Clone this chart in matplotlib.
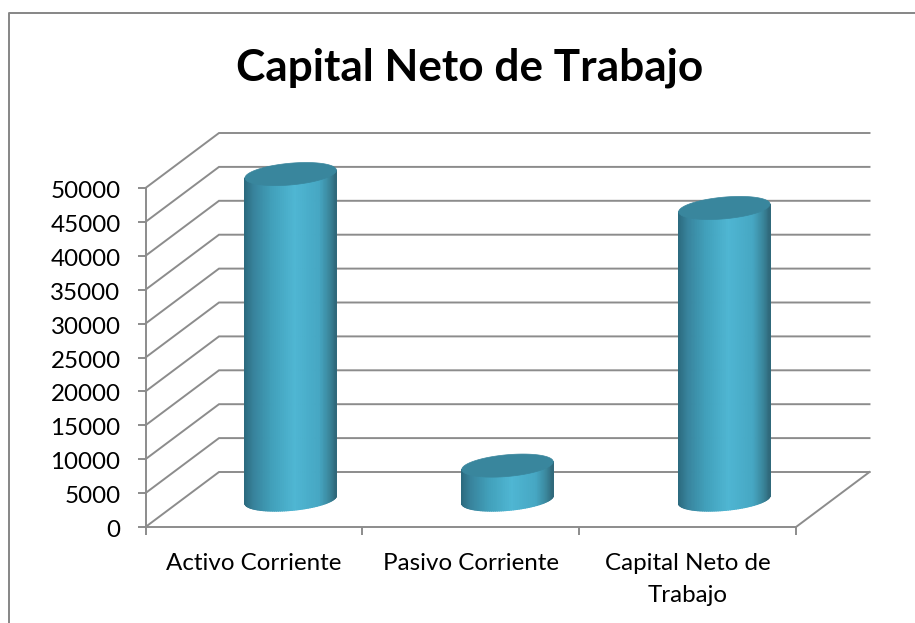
import numpy as np
import matplotlib
matplotlib.use("Agg")
import matplotlib.pyplot as plt
from matplotlib.lines import Line2D
from matplotlib.colors import LinearSegmentedColormap
from matplotlib.collections import PolyCollection
from matplotlib.transforms import ScaledTranslation

title = "Capital Neto de Trabajo"
categories = ["Activo Corriente", "Pasivo Corriente", "Capital Neto de\nTrabajo"]
values = [48000, 5000, 43000]
y_ticks = list(range(0, 50001, 5000))

W, H = 915, 623
GRID = "#8c8c8c"
plt.rcParams["font.family"] = ["Lato", "DejaVu Sans"]
fig = plt.figure(figsize=(W / 100, H / 100), dpi=100, facecolor="white")
L, R, T, B = 145.5, 796, 188, 527
ax = fig.add_axes([L / W, 1 - B / H, (R - L) / W, (B - T) / H])
ax.set_xlim(-0.5, 2.5)
ax.set_ylim(0, 50000)
ax.patch.set_visible(False)

# oblique depth of the 3D box, in data units
dx = 73.5 / (R - L) * 3
dy = 55 / (B - T) * 50000
lw = 1.4

for v in y_ticks:
    ax.plot([-0.5, -0.5 + dx, 2.5 + dx], [v, v + dy, v + dy], color=GRID, lw=lw, clip_on=False,
            solid_joinstyle="miter", zorder=1)
ax.plot([2.5, 2.5 + dx], [0, dy], color=GRID, lw=lw, clip_on=False, zorder=1)

for s in ("top", "right"):
    ax.spines[s].set_visible(False)
for s in ("left", "bottom"):
    ax.spines[s].set_color(GRID)
    ax.spines[s].set_linewidth(lw)
ax.set_yticks(y_ticks)
ax.set_xticks(range(len(categories)), categories)
ax.set_xticks([-0.5, 0.5, 1.5, 2.5], minor=True)
ax.tick_params(axis="y", length=6, width=lw, color=GRID, labelsize=17.4, pad=12, labelcolor="black")
ax.tick_params(axis="x", which="major", length=0, labelsize=17.4, pad=19, labelcolor="black")
ax.tick_params(axis="x", which="minor", length=6, width=lw, color=GRID)
for lab in ax.get_xticklabels():
    lab.set_linespacing(1.6)
shift = ScaledTranslation(0, -1.5 / 100, fig.dpi_scale_trans)
for lab in ax.get_yticklabels():
    lab.set_transform(lab.get_transform() + shift)

# cylinders
side = LinearSegmentedColormap.from_list("side", [
    (0.00, "#2b6a7e"), (0.10, "#38839c"), (0.30, "#41a0bb"), (0.55, "#4fb6d3"),
    (0.82, "#46a7c3"), (0.94, "#3a8499"), (1.00, "#30697b")])
A = 43 / (R - L) * 3
f = 0.21
Bx, By = dx * f, dy * f
tx = np.arctan2(Bx, A)
for i, v in enumerate(values):
    cx = i + dx / 2
    y0 = dy / 2
    t = np.linspace(tx + np.pi, tx + 2 * np.pi, 71)
    xs = cx + A * np.cos(t) + Bx * np.sin(t)
    ys = By * np.sin(t)
    frac = (xs - xs.min()) / (xs.max() - xs.min())
    polys = []
    cols = []
    for k in range(len(t) - 1):
        polys.append([(xs[k], y0 + ys[k]), (xs[k + 1], y0 + ys[k + 1]),
                      (xs[k + 1], y0 + v + ys[k + 1]), (xs[k], y0 + v + ys[k])])
        cols.append(side((frac[k] + frac[k + 1]) / 2))
    pc = PolyCollection(polys, facecolors=cols, edgecolors=cols, linewidths=0.9, clip_on=False, zorder=3)
    ax.add_collection(pc)
    tt = np.linspace(0, 2 * np.pi, 181)
    ax.fill(cx + A * np.cos(tt) + Bx * np.sin(tt), y0 + v + By * np.sin(tt),
            color="#39869d", lw=0.5, clip_on=False, zorder=4)

ax.set_xlim(-0.5, 2.5)
ax.set_ylim(0, 50000)

# chart border
fig.add_artist(Line2D([9 / W, 9 / W, 1], [0, 1 - 13 / H, 1 - 13 / H], color="#868686", lw=1.4))
fig.text(469.5 / W, 1 - 68 / H, title, ha="center", va="center", fontsize=31.8, fontweight="bold", color="black")

fig.savefig("out.png", dpi=100)
